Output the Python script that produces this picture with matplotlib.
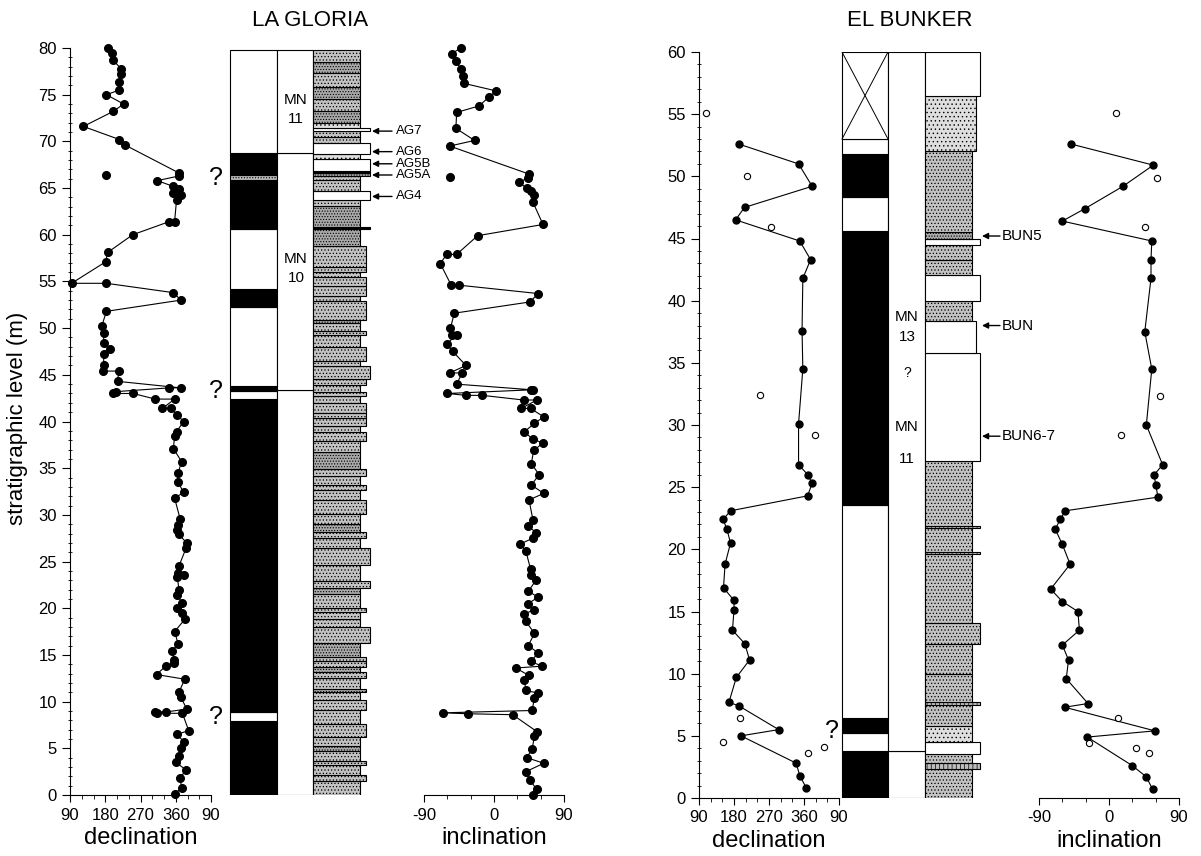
import numpy as np
import matplotlib.pyplot as plt
from matplotlib.patches import Rectangle
from matplotlib.ticker import MultipleLocator

plt.rcParams['font.family'] = ['Liberation Sans', 'DejaVu Sans']
plt.rcParams['hatch.linewidth'] = 0.5
plt.rcParams['hatch.color'] = '#555555'

# ---------------- LA GLORIA ----------------
lg_dec_lev = [80.0, 79.5, 78.7, 77.8, 77.2, 76.4, 75.5, 75.0, 74.0, 73.2,
              71.6, 70.2, 69.6, 66.6, 66.3, 65.8, 65.2, 64.9, 64.5, 64.3,
              63.7, 61.4, 61.4, 60.0, 58.1, 57.1, 54.8, 54.8, 53.8, 53.0,
              51.8, 50.2, 49.5, 48.4, 47.8, 47.2, 46.1, 45.4, 45.4, 44.3,
              43.6, 43.6, 43.2, 43.0, 43.0, 42.4, 42.4, 41.4, 41.4, 40.7,
              40.0, 38.9, 38.4, 37.1, 35.7, 34.5, 33.5, 32.4, 31.8, 29.6,
              28.9, 28.4, 27.9, 27.0, 26.4, 24.5, 23.8, 23.6, 23.4, 22.0,
              21.4, 20.6, 20.0, 19.5, 18.8, 17.5, 16.2, 15.4, 14.5, 14.1,
              13.8, 12.9, 12.4, 11.0, 10.5, 9.2, 8.9, 8.9, 8.75, 8.75,
              6.9, 6.5, 5.7, 5.0, 4.2, 3.5, 2.7, 1.8, 0.8, 0.1]
lg_dec = [186, 197, 200, 220, 220, 216, 216, 183, 227, 200,
          124, 216, 231, 369, 369, 313, 352, 369, 354, 373,
          362, 357, 343, 250, 186, 181, 94, 183, 354, 373,
          183, 171, 176, 176, 191, 176, 176, 174, 214, 212,
          373, 343, 208, 201, 251, 308, 357, 326, 347, 364,
          380, 362, 357, 354, 375, 366, 366, 380, 357, 371,
          366, 362, 368, 388, 386, 368, 366, 380, 364, 368,
          362, 377, 362, 377, 383, 357, 366, 350, 356, 356,
          334, 311, 383, 368, 373, 388, 336, 306, 313, 377,
          393, 364, 380, 373, 368, 360, 386, 371, 375, 357]
lg_dec_iso_lev = [66.4]
lg_dec_iso = [181]

lg_inc_lev = [80.0, 79.4, 78.6, 77.7, 77.0, 76.2, 75.4, 74.8, 73.8, 73.1,
              71.4, 70.1, 69.5, 66.5, 66.1, 65.6, 65.0, 64.7, 64.3, 63.5,
              61.1, 59.9, 57.9, 57.9, 56.9, 54.6, 54.6, 53.7, 52.8, 51.6,
              50.0, 49.3, 49.3, 48.3, 47.5, 46.0, 45.2, 45.2, 44.0, 43.4,
              43.4, 43.0, 42.8, 42.8, 42.3, 42.3, 41.4, 41.4, 40.5, 39.8,
              38.9, 38.1, 37.7, 36.9, 35.5, 34.3, 33.2, 32.3, 31.6, 29.5,
              28.8, 28.1, 27.5, 26.9, 26.1, 24.2, 23.6, 23.0, 21.8, 21.2,
              20.5, 19.8, 19.4, 18.6, 17.3, 16.0, 15.2, 14.3, 13.8, 13.6,
              12.8, 12.3, 11.2, 10.9, 10.4, 9.05, 8.8, 8.7, 8.6, 6.8,
              6.3, 4.9, 4.0, 3.4, 2.5, 1.6, 0.6, 0.0]
lg_inc = [-43, -54, -49, -42, -40, -38, 3, -6, -19, -48,
          -49, -25, -57, 45, 44, 32, 42, 47, 52, 50,
          63, -21, -48, -61, -69, -55, -45, 57, 46, -51,
          -56, -54, -48, -61, -53, -36, -57, -41, -48, 48,
          50, -60, -36, -15, 38, 55, 35, 47, 64, 52,
          39, 50, 63, 51, 48, 58, 48, 64, 45, 50,
          44, 54, 50, 34, 41, 47, 48, 54, 44, 57,
          44, 51, 39, 41, 52, 44, 57, 47, 62, 28,
          45, 39, 41, 57, 52, 49, -66, -33, 24, 55,
          52, 49, 42, 64, 41, 46, 55, 50]
lg_inc_iso_lev = [66.2]
lg_inc_iso = [-57]

# polarity zones (bottom, top, type)  k=normal(black) w=reversed g=uncertain
lg_pol_bot = [0.0, 7.9, 8.9, 42.4, 43.3, 43.8, 52.3, 54.2, 60.6, 65.9, 66.4, 68.8]
lg_pol_top = [7.9, 8.9, 42.4, 43.3, 43.8, 52.3, 54.2, 60.6, 65.9, 66.4, 68.8, 79.8]
lg_pol_typ = ['k', 'w', 'k', 'w', 'k', 'w', 'k', 'w', 'k', 'g', 'k', 'w']

lg_zone_bot = [0.0, 43.4, 68.8]
lg_zone_top = [43.4, 68.8, 79.8]
lg_zone_lab = ['', 'MN\n10', 'MN\n11']
lg_zone_lev = [0, 56.4, 73.4]

# lithology beds: top level, width class (0 base,1 medium,2 wide), fill
lg_lith_top = [1.55, 2.15, 3.25, 3.6, 4.7, 5.2, 6.2, 7.6, 9.1, 10.2,
               11.0, 11.3, 12.5, 13.2, 13.7, 14.3, 14.8, 16.3, 18.0, 18.9,
               19.6, 20.0, 21.5, 22.2, 22.9, 24.6, 26.5, 27.5, 28.2, 29.0,
               30.1, 31.6, 32.7, 33.2, 34.2, 34.9, 36.7, 37.9, 38.9, 39.5,
               40.4, 40.9, 42.0, 42.7, 43.2, 43.9, 44.5, 45.9, 46.5, 48.0,
               49.3, 49.7, 50.6, 50.9, 52.9, 53.4, 54.5, 55.5, 56.0, 56.5,
               58.8, 60.6, 60.8, 63.1, 63.7, 64.7, 65.9, 66.3, 66.6, 66.8,
               68.1, 68.7, 69.8, 70.5, 71.1, 71.4, 72.0, 73.3, 74.5, 75.8,
               77.3, 78.5, 79.8]
lg_lith_wid = [0, 1, 0, 1, 0, 0, 0, 1, 0, 1,
               0, 1, 0, 1, 0, 1, 1, 0, 2, 0,
               0, 1, 0, 0, 2, 0, 2, 0, 1, 0,
               0, 1, 0, 1, 0, 1, 0, 0, 1, 0,
               1, 1, 1, 0, 1, 0, 1, 2, 0, 1,
               0, 1, 0, 0, 1, 0, 1, 1, 0, 1,
               1, 0, 2, 0, 0, 2, 0, 0, 2, 2,
               2, 0, 2, 0, 0, 2, 0, 0, 0, 0,
               0, 0, 0]
lg_lith_fill = ['m', 'm', 'm', 'm', 'm', 'd', 'm', 'm', 'm', 'm',
                'm', 'd', 'm', 'm', 'd', 'm', 'm', 'd', 'm', 'm',
                'm', 'm', 'm', 'd', 'm', 'm', 'm', 'm', 'm', 'd',
                'm', 'm', 'm', 'm', 'm', 'm', 'd', 'm', 'm', 'm',
                'm', 'm', 'm', 'm', 'm', 'm', 'm', 'm', 'm', 'm',
                'm', 'm', 'm', 'd', 'm', 'm', 'm', 'm', 'm', 'm',
                'm', 'd', 'k', 'd', 'm', 'w', 'm', 'm', 'd', 'k',
                'w', 'l', 'w', 'm', 'm', 'w', 'l', 'd', 'm', 'd',
                'm', 'd', 'm']

lg_sites = ['AG7', 'AG6', 'AG5B', 'AG5A', 'AG4']
lg_site_lev = [71.1, 68.9, 67.6, 66.4, 64.1]
lg_quest_lev = [66.1, 43.3, 8.4]

# ---------------- EL BUNKER ----------------
eb_dec_lev = [52.6, 51.0, 49.2, 47.5, 46.5, 44.8, 43.3, 41.8, 37.6, 34.5,
              30.1, 26.8, 26.0, 25.3, 24.3, 23.1, 22.4, 21.6, 20.5, 18.8,
              16.9, 15.9, 15.1, 13.5, 12.4, 11.1, 9.7, 7.7, 7.4, 5.5,
              5.0, 2.8, 1.8, 0.8]
eb_dec = [192, 346, 381, 207, 184, 349, 377, 357, 355, 357,
          346, 346, 370, 381, 369, 171, 152, 162, 171, 157,
          153, 180, 180, 176, 208, 220, 186, 167, 193, 295,
          198, 340, 349, 366]
eb_dec_open_lev = [55.1, 50.0, 45.9, 32.4, 29.2, 6.4, 4.5, 3.6, 4.1]
eb_dec_open = [107, 214, 274, 247, 389, 196, 152, 369, 411]

eb_inc_lev = [52.6, 50.9, 49.2, 47.4, 46.4, 44.8, 43.3, 41.8, 37.5, 34.5,
              30.0, 26.8, 26.0, 25.2, 24.2, 23.1, 22.4, 21.6, 20.4, 18.8,
              16.8, 15.8, 15.0, 13.5, 12.3, 11.1, 9.6, 7.6, 7.3, 5.4,
              4.9, 2.6, 1.7, 0.7]
eb_inc = [-49, 57, 18, -31, -60, 55, 54, 54, 46, 55,
          48, 69, 58, 60, 63, -56, -63, -69, -60, -50,
          -75, -60, -40, -38, -60, -52, -55, -27, -57, 59,
          -28, 30, 48, 56]
eb_inc_open_lev = [55.1, 49.9, 45.9, 32.3, 29.2, 6.4, 4.4, 4.0, 3.6]
eb_inc_open = [9, 62, 46, 65, 15, 11, -26, 35, 51]

eb_pol_bot = [0.0, 3.8, 5.2, 6.4, 23.6, 45.6, 48.3, 51.8, 53.0]
eb_pol_top = [3.8, 5.2, 6.4, 23.6, 45.6, 48.3, 51.8, 53.0, 60.0]
eb_pol_typ = ['k', 'w', 'k', 'w', 'k', 'w', 'k', 'w', 'x']

eb_zone_bot = [0.0, 3.8]
eb_zone_top = [3.8, 60.0]

eb_lith_top = [2.3, 2.8, 3.5, 4.5, 5.8, 7.5, 7.7, 10.0, 12.4, 14.1,
               19.6, 19.8, 21.7, 21.9, 27.1, 35.8, 38.4, 40.0, 42.1, 43.3,
               44.5, 45.0, 45.5, 52.0, 56.5, 60.0]
eb_lith_wid = [0, 2, 0, 2, 0, 0, 2, 0, 0, 2,
               0, 2, 0, 2, 0, 2, 1, 0, 2, 0,
               0, 2, 0, 0, 1, 2]
eb_lith_fill = ['m', 't', 'm', 'w', 'l', 'm', 't', 'm', 'm', 'm',
                'm', 't', 'm', 't', 'm', 'w', 'w', 'm', 'w', 'm',
                'm', 'w', 'd', 'm', 'l', 'w']

eb_sites = ['BUN5', 'BUN', 'BUN6-7']
eb_site_lev = [45.2, 38.0, 29.1]

W, H = 1201, 856
fig = plt.figure(figsize=(W / 100, H / 100), dpi=100)


def ax_px(x0, x1, y0, y1):
    return fig.add_axes([x0 / W, 1 - y1 / H, (x1 - x0) / W, (y1 - y0) / H])


fills = {'m': dict(facecolor='#c2c2c2', hatch='.....'),
         'd': dict(facecolor='#a8a8a8', hatch='......'),
         'l': dict(facecolor='#dedede', hatch='....'),
         't': dict(facecolor='#bdbdbd', hatch='||||'),
         'w': dict(facecolor='white'),
         'k': dict(facecolor='black')}


def setup_bottom(ax, xlim, ticks, labels, xlabel):
    ax.set_xlim(*xlim)
    ax.set_xticks(ticks)
    ax.set_xticklabels(labels, fontsize=12)
    ax.xaxis.set_minor_locator(MultipleLocator(30))
    ax.tick_params(axis='x', which='major', length=5, width=0.8, pad=4)
    ax.tick_params(axis='x', which='minor', length=3, width=0.6)
    ax.spines['top'].set_visible(False)
    ax.spines['right'].set_visible(False)
    ax.spines['bottom'].set_linewidth(0.8)
    ax.set_xlabel(xlabel, fontsize=17, labelpad=3)
    ax.patch.set_visible(False)


def dec_panel(ax, lev, dec, ilev, idec, olev, odec, ymax, ms):
    ax.plot(dec, lev, '-o', color='k', lw=0.8, ms=ms, clip_on=False, zorder=3)
    ax.plot(idec, ilev, 'o', color='k', ms=ms, clip_on=False, zorder=3)
    ax.plot(odec, olev, 'o', mfc='white', mec='k', mew=0.8, ms=ms - 0.5,
            clip_on=False, zorder=3)
    setup_bottom(ax, (90, 450), [90, 180, 270, 360, 450],
                 ['90', '180', '270', '360', '90'], 'declination')
    ax.set_ylim(0, ymax)
    ax.yaxis.set_major_locator(MultipleLocator(5))
    ax.yaxis.set_minor_locator(MultipleLocator(1))
    ax.tick_params(axis='y', which='major', length=6, width=0.8, labelsize=12,
                   direction='out')
    ax.tick_params(axis='y', which='minor', length=3, width=0.6,
                   direction='inout')
    ax.spines['left'].set_linewidth(0.8)


def inc_panel(ax, lev, inc, ilev, iinc, olev, oinc, ymax, ms):
    ax.plot(inc, lev, '-o', color='k', lw=0.8, ms=ms, clip_on=False, zorder=3)
    ax.plot(iinc, ilev, 'o', color='k', ms=ms, clip_on=False, zorder=3)
    ax.plot(oinc, olev, 'o', mfc='white', mec='k', mew=0.8, ms=ms - 0.5,
            clip_on=False, zorder=3)
    setup_bottom(ax, (-90, 90), [-90, 0, 90], ['-90', '0', '90'], 'inclination')
    ax.set_ylim(0, ymax)
    ax.spines['left'].set_visible(False)
    ax.set_yticks([])


def column(ax, xlim, ymax, xp, pol, zones, lith, sites, arrow_x, text_x, fs):
    ax.set_xlim(*xlim)
    ax.set_ylim(0, ymax)
    ax.axis('off')
    ax.patch.set_visible(False)
    x_pol, x_zone, x_lith, lith_w = xp
    # polarity column
    for b, t, ty in zip(*pol):
        kw = dict(edgecolor='k', lw=0.8)
        if ty == 'k':
            kw['facecolor'] = 'black'
        elif ty == 'g':
            kw.update(facecolor='#bbbbbb', hatch='......')
        else:
            kw['facecolor'] = 'white'
        ax.add_patch(Rectangle((x_pol, b), x_zone - x_pol, t - b, **kw))
        if ty == 'x':
            ax.plot([x_pol, x_zone], [b, t], color='k', lw=0.7)
            ax.plot([x_pol, x_zone], [t, b], color='k', lw=0.7)
    # biozone column
    zb, zt = zones[0], zones[1]
    for b, t in zip(zb, zt):
        ax.add_patch(Rectangle((x_zone, b), x_lith - x_zone, t - b,
                               facecolor='white', edgecolor='k', lw=0.8))
    # lithology column
    tops, wids, fl = lith
    bot = 0.0
    for t, w, f in zip(tops, wids, fl):
        ax.add_patch(Rectangle((x_lith, bot), lith_w[w], t - bot,
                               edgecolor='k', lw=0.8, **fills[f]))
        bot = t
    for name, lv in zip(*sites):
        ax.annotate('', xy=(arrow_x[0], lv), xytext=(arrow_x[1], lv),
                    arrowprops=dict(arrowstyle='-|>', color='k', lw=1.0,
                                    mutation_scale=9, shrinkA=0, shrinkB=0))
        ax.text(text_x, lv, name, fontsize=fs, va='center', ha='left')


# ---- LA GLORIA ----
ax1 = ax_px(70, 211, 48, 795)
dec_panel(ax1, lg_dec_lev, lg_dec, lg_dec_iso_lev, lg_dec_iso, [], [], 80, 5.5)
ax2 = ax_px(205, 420, 48, 795)
column(ax2, (205, 420), 80, (230, 277, 313, {0: 47, 1: 53, 2: 57}),
       (lg_pol_bot, lg_pol_top, lg_pol_typ), (lg_zone_bot, lg_zone_top),
       (lg_lith_top, lg_lith_wid, lg_lith_fill), (lg_sites, lg_site_lev),
       (372, 392), 396, 9.5)
for lab, lv in zip(lg_zone_lab, lg_zone_lev):
    if lab:
        ax2.text(296, lv, lab, fontsize=11, ha='center', va='center',
                 linespacing=1.5)
for lv in lg_quest_lev:
    ax2.text(216, lv, '?', fontsize=18, ha='center', va='center')
ax3 = ax_px(424, 564, 48, 795)
inc_panel(ax3, lg_inc_lev, lg_inc, lg_inc_iso_lev, lg_inc_iso, [], [], 80, 5.5)

# ---- EL BUNKER ----
ax4 = ax_px(699, 839, 52, 798)
dec_panel(ax4, eb_dec_lev, eb_dec, [], [], eb_dec_open_lev, eb_dec_open, 60, 5)
ax5 = ax_px(820, 1030, 52, 798)
column(ax5, (820, 1030), 60, (842, 888, 925, {0: 47, 1: 51, 2: 55}),
       (eb_pol_bot, eb_pol_top, eb_pol_typ), (eb_zone_bot, eb_zone_top),
       (eb_lith_top, eb_lith_wid, eb_lith_fill), (eb_sites, eb_site_lev),
       (982, 1000), 1002, 11)
ax5.text(907, 38.7, 'MN', fontsize=11, ha='center', va='center')
ax5.text(907, 37.1, '13', fontsize=11, ha='center', va='center')
ax5.text(907, 34.2, '?', fontsize=10, ha='center', va='center')
ax5.text(907, 29.8, 'MN', fontsize=11, ha='center', va='center')
ax5.text(907, 27.3, '11', fontsize=11, ha='center', va='center')
ax5.text(832, 5.4, '?', fontsize=18, ha='center', va='center')
ax6 = ax_px(1039, 1179, 52, 798)
inc_panel(ax6, eb_inc_lev, eb_inc, [], [], eb_inc_open_lev, eb_inc_open, 60, 5)

fig.text(310 / W, 1 - 20 / H, 'LA GLORIA', fontsize=16, ha='center', va='center')
fig.text(910 / W, 1 - 20 / H, 'EL BUNKER', fontsize=16, ha='center', va='center')
fig.text(18 / W, 1 - 418 / H, 'stratigraphic level (m)', fontsize=16,
         rotation=90, ha='center', va='center')

fig.savefig('out.png', dpi=100)
